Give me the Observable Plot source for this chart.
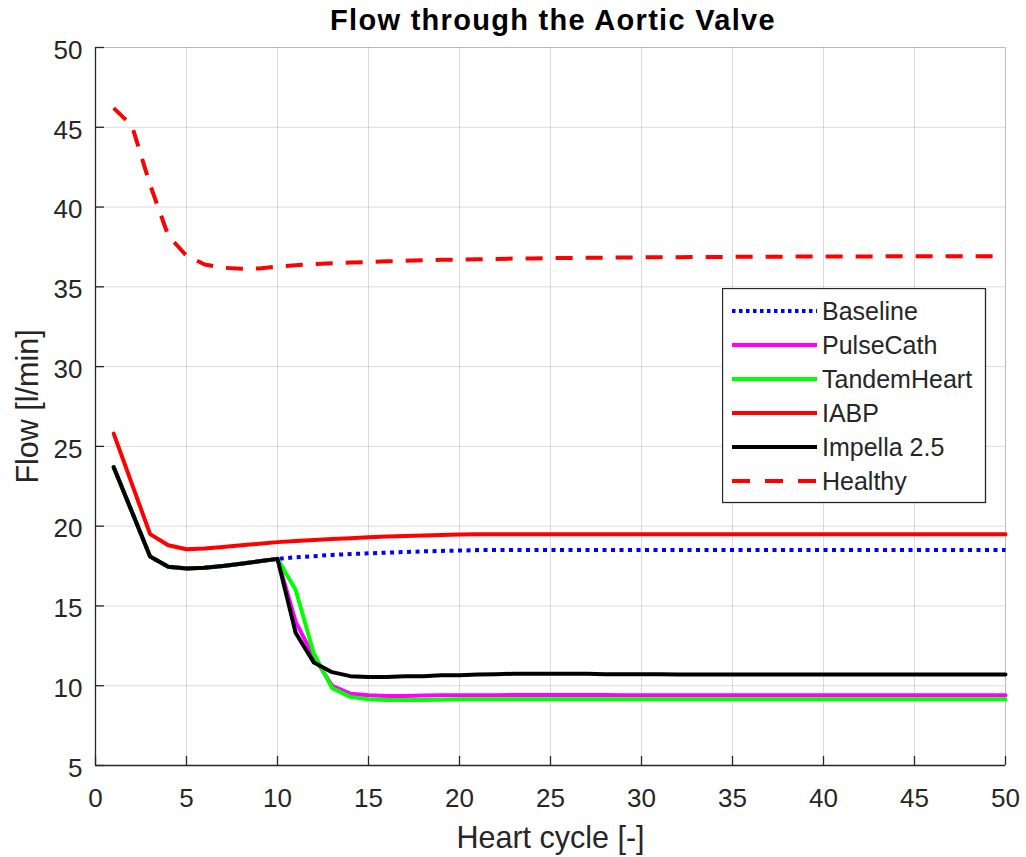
<!DOCTYPE html>
<html>
<head>
<meta charset="utf-8">
<script src="https://cdn.jsdelivr.net/npm/d3@7"></script>
<script src="https://cdn.jsdelivr.net/npm/@observablehq/plot@0.6"></script>
<style>
  html, body { margin: 0; padding: 0; background: #fff; overflow: hidden; }
  #wrap { position: relative; width: 1026px; height: 857px; font-family: "Liberation Sans", Arial, Helvetica, sans-serif; }
  #title { position: absolute; left: 95px; top: 0; width: 916px; height: 28px; line-height: 40px; text-align: center; z-index: 3;
           font-size: 29px; font-weight: bold; color: #000; letter-spacing: 1.3px; white-space: nowrap; }
  #chart { position: absolute; left: 0; top: 28px; z-index: 1; }
  #chart svg { overflow: visible; background: transparent; }
  #legend { position: absolute; left: 722px; top: 288px; z-index: 2; }
</style>
</head>
<body>
<div id="wrap">
  <div id="title">Flow through the Aortic Valve</div>
  <div id="chart"></div>
  <div id="legend"></div>
</div>
<script>
// ---- data ----
const cycles = [1,2,3,4,5,6,7,8,9,10,11,12,13,14,15,16,17,18,19,20,21,22,23,24,25,26,27,28,29,30,31,32,33,34,35,36,37,38,39,40,41,42,43,44,45,46,47,48,49,50];

const baseline = [23.7,20.9,18.1,17.45,17.35,17.4,17.5,17.65,17.8,17.95,18.05,18.12,18.2,18.25,18.3,18.34,18.38,18.42,18.45,18.47,18.5,18.5,18.5,18.5,18.5,18.5,18.5,18.5,18.5,18.5,18.5,18.5,18.5,18.5,18.5,18.5,18.5,18.5,18.5,18.5,18.5,18.5,18.5,18.5,18.5,18.5,18.5,18.5,18.5,18.5];

const pulseCath = [23.7,20.9,18.1,17.45,17.35,17.4,17.5,17.65,17.8,17.95,14.0,11.8,10.0,9.5,9.4,9.35,9.35,9.38,9.4,9.4,9.4,9.4,9.42,9.42,9.42,9.42,9.42,9.42,9.4,9.4,9.4,9.4,9.4,9.4,9.4,9.4,9.4,9.4,9.4,9.4,9.4,9.4,9.4,9.4,9.4,9.4,9.4,9.4,9.4,9.4];

const tandemHeart = [23.7,20.9,18.1,17.45,17.35,17.4,17.5,17.65,17.8,17.95,16.0,12.0,9.85,9.3,9.15,9.1,9.1,9.1,9.12,9.15,9.15,9.15,9.15,9.15,9.15,9.15,9.15,9.15,9.15,9.15,9.15,9.15,9.15,9.15,9.15,9.15,9.15,9.15,9.15,9.15,9.15,9.15,9.15,9.15,9.15,9.15,9.15,9.15,9.15,9.15];

const iabp = [25.8,22.65,19.5,18.8,18.55,18.6,18.7,18.8,18.9,19.0,19.07,19.13,19.2,19.25,19.3,19.35,19.38,19.42,19.45,19.48,19.5,19.5,19.5,19.5,19.5,19.5,19.5,19.5,19.5,19.5,19.5,19.5,19.5,19.5,19.5,19.5,19.5,19.5,19.5,19.5,19.5,19.5,19.5,19.5,19.5,19.5,19.5,19.5,19.5,19.5];

const impella = [23.7,20.9,18.1,17.45,17.35,17.4,17.5,17.65,17.8,17.95,13.3,11.45,10.85,10.6,10.55,10.55,10.6,10.6,10.65,10.65,10.7,10.72,10.75,10.75,10.75,10.75,10.75,10.72,10.72,10.72,10.72,10.7,10.7,10.7,10.7,10.7,10.7,10.7,10.7,10.7,10.7,10.7,10.7,10.7,10.7,10.7,10.7,10.7,10.7,10.7];

const healthy = [46.2,45.1,41.4,38.2,36.95,36.4,36.2,36.13,36.15,36.28,36.35,36.42,36.48,36.52,36.56,36.6,36.63,36.66,36.69,36.71,36.73,36.75,36.77,36.78,36.8,36.81,36.82,36.83,36.84,36.85,36.86,36.86,36.87,36.87,36.88,36.88,36.89,36.89,36.9,36.9,36.9,36.9,36.91,36.91,36.91,36.92,36.92,36.92,36.92,36.92];

const xTicks = [0,5,10,15,20,25,30,35,40,45,50];
const yTicks = [5,10,15,20,25,30,35,40,45,50];

const seriesNames = ["Baseline","PulseCath","TandemHeart","IABP","Impella 2.5","Healthy"];
const seriesColors = ["#0000ff","#ff00ff","#00ff00","#ff0000","#000000","#ff0000"];
const seriesDash = ["4,4.5",null,null,null,null,"17,13"];
const seriesData = [baseline, pulseCath, tandemHeart, iabp, impella, healthy];

// ---- chart ----
const axisColor = "#262626";
const lineMarks = seriesData.map((vals, i) =>
  Plot.lineY(vals, {
    x: cycles,
    stroke: seriesColors[i],
    strokeWidth: 4,
    strokeDasharray: seriesDash[i] || undefined,
    strokeLinejoin: "round",
    strokeLinecap: seriesDash[i] ? "butt" : "round"
  })
);

const chart = Plot.plot({
  width: 1026,
  height: 829,
  marginTop: 19,
  marginRight: 21,
  marginBottom: 92,
  marginLeft: 95,
  x: {domain: [0, 50]},
  y: {domain: [5, 50]},
  style: {fontFamily: "'Liberation Sans', Arial, Helvetica, sans-serif", color: axisColor, background: "transparent", overflow: "visible"},
  marks: [
    Plot.gridX(xTicks, {stroke: "#000", strokeOpacity: 0.14, strokeWidth: 1}),
    Plot.gridY(yTicks, {stroke: "#000", strokeOpacity: 0.14, strokeWidth: 1}),
    Plot.frame({stroke: "#000", strokeOpacity: 0.14}),
    ...lineMarks,
    Plot.ruleX([0], {stroke: axisColor, strokeWidth: 1.3}),
    Plot.ruleY([5], {stroke: axisColor, strokeWidth: 1.3}),
    Plot.tickX(xTicks, {x: d => d, stroke: axisColor, strokeWidth: 1.3, insetTop: 709}),
    Plot.tickY(yTicks, {y: d => d, stroke: axisColor, strokeWidth: 1.3, insetRight: 901}),
    Plot.axisX(xTicks, {tickSize: 0, tickPadding: 23, fontSize: 26, label: null, fill: axisColor}),
    Plot.axisY(yTicks, {tickSize: 0, tickPadding: 13, fontSize: 26, label: null, fill: axisColor, dy: 3}),
    Plot.text(["Heart cycle [-]"], {frameAnchor: "bottom", dy: 73, fontSize: 30.5, fill: axisColor, textAnchor: "middle", lineAnchor: "middle"}),
    Plot.text(["Flow [l/min]"], {frameAnchor: "left", dx: -67, fontSize: 30.5, fill: axisColor, rotate: -90, textAnchor: "middle", lineAnchor: "middle"})
  ]
});
document.getElementById("chart").appendChild(chart);

// ---- legend ----
const lw = 263, lh = 214;
const leg = d3.select("#legend").append("svg")
  .attr("width", lw + 2).attr("height", lh + 2)
  .style("font-family", "'Liberation Sans', Arial, Helvetica, sans-serif");
leg.append("rect").attr("x", 0.5).attr("y", 0.5).attr("width", lw).attr("height", lh)
  .attr("fill", "white").attr("stroke", axisColor).attr("stroke-width", 1.3);
const rows = leg.selectAll("g.row").data(seriesNames).join("g")
  .attr("transform", (d, i) => `translate(0, ${23 + i * 34})`);
rows.append("line").attr("x1", 10).attr("x2", 95).attr("y1", 0).attr("y2", 0)
  .attr("stroke", (d, i) => seriesColors[i]).attr("stroke-width", 4)
  .attr("stroke-dasharray", (d, i) => seriesDash[i] ? (i === 5 ? "18,15" : "3.5,3.5") : null);
rows.append("text").attr("x", 100).attr("y", 0).attr("dy", "0.36em")
  .attr("font-size", 25).attr("fill", axisColor).text(d => d);
</script>
</body>
</html>
